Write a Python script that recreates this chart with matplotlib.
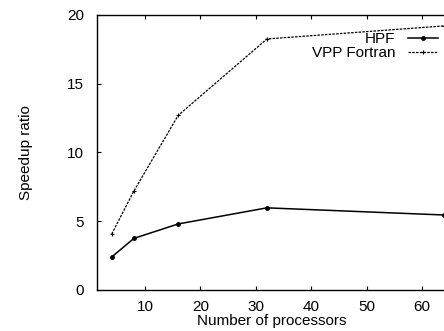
import matplotlib
matplotlib.use('Agg')
import matplotlib.pyplot as plt

# data
procs = [4, 8, 16, 32, 64]
hpf = [2.4, 3.75, 4.8, 5.97, 5.45]
vpp = [4.07, 7.2, 12.7, 18.25, 19.2]

plt.rcParams['font.family'] = ['Liberation Sans', 'DejaVu Sans']
plt.rcParams['font.size'] = 11

fig = plt.figure(figsize=(4.44, 3.31), dpi=100)
ax = fig.add_axes([0.218, 0.124, 0.79, 0.831])

ax.plot(procs, hpf, color='black', lw=1.1, marker='o', ms=2.5, label='HPF')
ax.plot(procs, vpp, color='black', lw=0.9, ls=(0, (2, 1)), marker='+', ms=3,
        mew=0.8, label='VPP Fortran')

ax.set_xlim(1.3, 64.6)
ax.set_ylim(0, 20)
ax.set_xticks([10, 20, 30, 40, 50, 60])
ax.set_yticks([0, 5, 10, 15, 20])
ax.tick_params(direction='in', length=3, width=0.8, top=True, right=True,
               labelsize=11)
ax.tick_params(axis='x', pad=7)
ax.tick_params(axis='y', pad=9)
for s in ax.spines.values():
    s.set_linewidth(1.0)

ax.set_xlabel('Number of processors', labelpad=0)
ax.set_ylabel('Speedup ratio', labelpad=25)

ax.legend(loc='upper right', bbox_to_anchor=(0.995, 0.965), frameon=False,
          markerfirst=False, handlelength=2.0, handletextpad=0.8,
          labelspacing=0.0, borderpad=0, fontsize=11)

fig.savefig('out.png', dpi=100)
